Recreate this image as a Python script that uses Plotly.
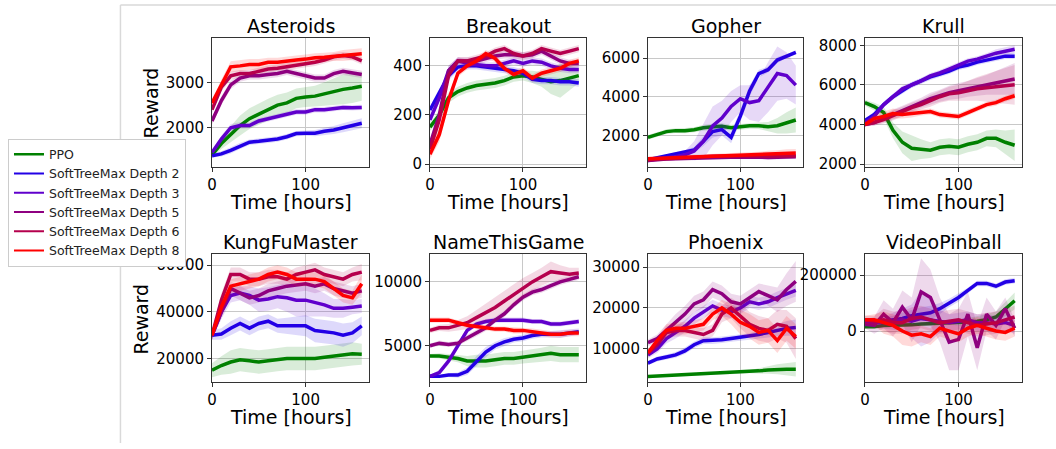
import plotly.graph_objects as go
from plotly.subplots import make_subplots

# ---------------- data ----------------
HOURS = [0, 10, 20, 30, 40, 50, 60, 70, 80, 90, 100, 110, 120, 130, 140, 150, 160]
SERIES = ["PPO", "SoftTreeMax Depth 2", "SoftTreeMax Depth 3",
          "SoftTreeMax Depth 5", "SoftTreeMax Depth 6", "SoftTreeMax Depth 8"]
GAMES = ["Asteroids", "Breakout", "Gopher", "Krull",
         "KungFuMaster", "NameThisGame", "Phoenix", "VideoPinball"]

# Asteroids
AST_PPO = [1400, 1650, 1850, 2050, 2200, 2300, 2400, 2500, 2550, 2650, 2680, 2700, 2750, 2800, 2850, 2880, 2920]
AST_D2 = [1380, 1420, 1500, 1600, 1680, 1700, 1720, 1750, 1800, 1870, 1880, 1880, 1920, 1950, 2000, 2050, 2100]
AST_D3 = [1450, 1750, 2000, 2050, 2050, 2150, 2200, 2250, 2300, 2350, 2350, 2400, 2400, 2420, 2450, 2440, 2450]
AST_D5 = [2150, 2600, 2950, 3100, 3150, 3150, 3180, 3200, 3250, 3200, 3150, 3100, 3100, 3200, 3250, 3220, 3180]
AST_D6 = [2400, 2900, 3150, 3200, 3200, 3250, 3300, 3320, 3350, 3380, 3420, 3450, 3500, 3570, 3600, 3570, 3480]
AST_D8 = [2550, 2950, 3350, 3370, 3400, 3400, 3450, 3450, 3480, 3500, 3520, 3550, 3560, 3580, 3600, 3620, 3640]
AST_PPO_SD = [60, 120, 180, 220, 230, 240, 240, 230, 230, 220, 220, 230, 260, 300, 330, 330, 320]
AST_D2_SD = [40, 60, 70, 70, 60, 60, 60, 60, 60, 60, 60, 70, 80, 90, 100, 110, 110]
AST_D3_SD = [50, 80, 80, 70, 60, 60, 60, 60, 60, 60, 60, 60, 60, 60, 60, 60, 60]
AST_D5_SD = [80, 100, 90, 80, 80, 80, 80, 80, 80, 80, 80, 80, 80, 80, 80, 80, 80]
AST_D6_SD = [80, 100, 90, 80, 80, 80, 80, 80, 80, 80, 80, 80, 80, 80, 80, 80, 80]
AST_D8_SD = [80, 120, 120, 120, 120, 120, 100, 100, 100, 100, 100, 100, 100, 100, 120, 120, 120]

# Breakout
BRK_PPO = [150, 200, 270, 295, 310, 320, 325, 330, 340, 355, 360, 355, 345, 335, 340, 350, 360]
BRK_D2 = [220, 290, 360, 395, 400, 400, 395, 390, 385, 380, 370, 345, 340, 340, 335, 335, 330]
BRK_D3 = [180, 270, 380, 420, 410, 405, 400, 400, 410, 420, 410, 420, 415, 400, 390, 385, 385]
BRK_D5 = [80, 200, 380, 420, 420, 420, 430, 440, 445, 445, 440, 445, 460, 440, 420, 410, 410]
BRK_D6 = [60, 180, 360, 420, 420, 430, 440, 460, 470, 450, 440, 450, 470, 460, 450, 460, 470]
BRK_D8 = [40, 120, 260, 370, 400, 420, 450, 430, 390, 365, 380, 350, 370, 380, 390, 410, 420]
BRK_PPO_SD = [15, 20, 20, 20, 20, 20, 20, 20, 20, 20, 20, 25, 30, 50, 70, 50, 30]
BRK_D2_SD = [15, 20, 20, 15, 15, 15, 15, 15, 15, 15, 15, 15, 15, 15, 15, 15, 15]
BRK_D3_SD = [15, 20, 20, 15, 15, 15, 15, 15, 15, 15, 15, 15, 15, 15, 15, 15, 15]
BRK_D5_SD = [20, 25, 20, 15, 15, 15, 15, 15, 15, 15, 15, 15, 15, 15, 15, 15, 15]
BRK_D6_SD = [20, 25, 20, 15, 15, 15, 15, 15, 15, 15, 15, 15, 15, 15, 15, 15, 15]
BRK_D8_SD = [20, 30, 25, 15, 15, 15, 15, 15, 15, 15, 15, 15, 15, 15, 15, 15, 15]

# Gopher
GOP_PPO = [1900, 2050, 2200, 2250, 2250, 2300, 2400, 2450, 2480, 2400, 2450, 2500, 2500, 2450, 2500, 2650, 2800]
GOP_D2 = [750, 850, 950, 1050, 1150, 1250, 1700, 2200, 2300, 1900, 3000, 4300, 5200, 5400, 5900, 6100, 6300]
GOP_D3 = [700, 800, 850, 900, 1000, 1200, 1700, 2500, 2900, 3500, 3900, 3700, 3800, 4500, 5200, 5100, 4600]
GOP_D5 = [700, 750, 780, 800, 820, 840, 850, 860, 870, 880, 880, 890, 880, 860, 880, 890, 900]
GOP_D6 = [750, 780, 820, 850, 870, 880, 900, 920, 930, 940, 950, 960, 950, 920, 940, 950, 950]
GOP_D8 = [800, 820, 850, 880, 900, 920, 940, 950, 960, 980, 1000, 1020, 1040, 1060, 1080, 1090, 1100]
GOP_PPO_SD = [120, 120, 120, 120, 130, 130, 150, 150, 150, 150, 150, 150, 170, 250, 400, 550, 650]
GOP_D2_SD = [60, 70, 80, 100, 100, 150, 250, 300, 300, 300, 300, 300, 200, 150, 150, 100, 100]
GOP_D3_SD = [60, 70, 80, 100, 200, 500, 900, 1000, 900, 800, 700, 900, 1100, 1300, 1400, 1200, 1000]
GOP_D5_SD = [80, 80, 80, 80, 80, 80, 80, 80, 80, 80, 80, 80, 100, 120, 100, 100, 100]
GOP_D6_SD = [80, 80, 80, 80, 80, 80, 80, 80, 80, 80, 80, 80, 100, 120, 100, 100, 100]
GOP_D8_SD = [100, 100, 100, 100, 100, 100, 100, 100, 100, 120, 120, 120, 120, 150, 150, 200, 200]

# Krull
KRL_PPO = [5100, 4900, 4600, 3700, 3100, 2800, 2750, 2700, 2850, 2900, 2850, 3000, 3100, 3300, 3300, 3100, 2950]
KRL_D2 = [4200, 4500, 5000, 5400, 5700, 6000, 6200, 6400, 6550, 6700, 6900, 7000, 7150, 7250, 7350, 7450, 7450]
KRL_D3 = [4100, 4400, 5000, 5400, 5800, 6000, 6200, 6450, 6600, 6800, 7000, 7200, 7300, 7450, 7600, 7700, 7800]
KRL_D5 = [4000, 4100, 4300, 4500, 4700, 4900, 5100, 5300, 5450, 5600, 5700, 5800, 5900, 6000, 6100, 6200, 6300]
KRL_D6 = [4000, 4100, 4250, 4450, 4650, 4850, 5000, 5200, 5400, 5550, 5600, 5700, 5800, 5850, 5900, 5950, 6000]
KRL_D8 = [4000, 4300, 4400, 4550, 4500, 4550, 4600, 4650, 4500, 4450, 4400, 4600, 4800, 5000, 5100, 5300, 5450]
KRL_PPO_SD = [150, 200, 300, 400, 550, 650, 500, 400, 400, 400, 400, 400, 400, 400, 450, 600, 800]
KRL_D2_SD = [100, 150, 150, 150, 150, 150, 150, 150, 150, 150, 150, 150, 150, 150, 150, 150, 150]
KRL_D3_SD = [100, 150, 150, 150, 150, 150, 150, 150, 150, 150, 150, 150, 150, 150, 200, 200, 200]
KRL_D5_SD = [100, 150, 200, 250, 250, 250, 250, 300, 300, 350, 400, 400, 450, 500, 600, 700, 800]
KRL_D6_SD = [100, 150, 200, 250, 250, 250, 250, 300, 300, 350, 400, 500, 600, 700, 800, 900, 1000]
KRL_D8_SD = [100, 200, 250, 250, 200, 200, 150, 150, 150, 150, 150, 150, 150, 150, 150, 150, 150]

# KungFuMaster
KFM_PPO = [15000, 17000, 18500, 19500, 19000, 18500, 19000, 19500, 20000, 20000, 20000, 20000, 20500, 21000, 21500, 22000, 21800]
KFM_D2 = [30000, 30500, 33000, 35000, 33000, 35000, 36000, 34000, 34000, 34000, 34000, 32000, 31500, 31000, 30000, 31000, 34000]
KFM_D3 = [30000, 40000, 47000, 48000, 47000, 45000, 45500, 46500, 46000, 45000, 45000, 44000, 43000, 41500, 41500, 42000, 42500]
KFM_D5 = [30000, 40000, 50000, 48000, 46000, 47000, 49000, 50000, 51000, 51500, 52000, 51000, 52000, 50000, 49000, 48000, 49000]
KFM_D6 = [30000, 45000, 56000, 56000, 54000, 54000, 55000, 55000, 54000, 56000, 57000, 58000, 56000, 55000, 54000, 56000, 57000]
KFM_D8 = [30000, 42000, 51000, 52000, 53000, 54000, 56000, 57000, 56000, 54000, 54000, 54000, 53000, 50000, 47000, 46000, 52000]
KFM_PPO_SD = [3000, 4000, 5000, 5000, 5000, 5000, 5000, 5000, 5000, 5000, 5000, 5000, 5000, 5000, 5000, 5000, 4500]
KFM_D2_SD = [2000, 2500, 3000, 3000, 3000, 3000, 3000, 3000, 3500, 4000, 4500, 5000, 5000, 5000, 5000, 4500, 4000]
KFM_D3_SD = [2000, 3000, 3000, 3000, 4000, 5000, 5000, 5000, 6000, 7000, 7000, 6000, 5000, 4000, 4000, 3000, 3000]
KFM_D5_SD = [2000, 3000, 3000, 3000, 3000, 3000, 3000, 3000, 3000, 3000, 3000, 3000, 3000, 3000, 3000, 3000, 3000]
KFM_D6_SD = [2000, 3000, 3000, 3000, 3000, 3000, 3000, 3000, 3000, 3000, 3000, 3000, 3000, 3000, 3000, 3000, 3500]
KFM_D8_SD = [2000, 3000, 3000, 3000, 3000, 3000, 3000, 3000, 3000, 3000, 3000, 3000, 3000, 3000, 3000, 3000, 4000]

# NameThisGame
NTG_PPO = [4200, 4200, 4100, 4000, 3800, 3800, 3800, 3900, 4000, 4000, 4100, 4200, 4300, 4400, 4300, 4300, 4300]
NTG_D2 = [2600, 2600, 2700, 2700, 3000, 3800, 4500, 5000, 5300, 5500, 5600, 5800, 5900, 5900, 5900, 6000, 6100]
NTG_D3 = [2600, 2900, 3800, 5000, 6200, 6700, 6900, 7000, 7000, 7000, 7000, 6900, 6900, 6700, 6700, 6800, 6900]
NTG_D5 = [5000, 5200, 5100, 5200, 5600, 6000, 6400, 7000, 7500, 8200, 8800, 9200, 9400, 9700, 10000, 10200, 10400]
NTG_D6 = [6200, 6400, 6400, 6600, 6800, 7200, 7600, 8000, 8500, 9000, 9500, 10000, 10400, 10800, 10700, 10600, 10700]
NTG_D8 = [7000, 7000, 7000, 6800, 6600, 6500, 6400, 6300, 6300, 6200, 6200, 6100, 6000, 5900, 5900, 6000, 6000]
NTG_PPO_SD = [150, 200, 250, 300, 400, 500, 500, 500, 500, 500, 500, 500, 550, 600, 600, 600, 600]
NTG_D2_SD = [100, 100, 150, 200, 300, 400, 400, 300, 300, 250, 250, 250, 250, 250, 300, 300, 250]
NTG_D3_SD = [100, 200, 300, 300, 250, 200, 200, 200, 200, 200, 200, 200, 200, 200, 200, 200, 200]
NTG_D5_SD = [150, 200, 200, 200, 250, 250, 250, 250, 250, 250, 250, 250, 250, 250, 250, 250, 250]
NTG_D6_SD = [200, 250, 300, 400, 500, 600, 700, 800, 800, 800, 800, 700, 700, 800, 600, 500, 400]
NTG_D8_SD = [200, 200, 200, 200, 200, 200, 200, 200, 200, 250, 250, 250, 250, 250, 250, 250, 250]

# Phoenix
PHX_PPO = [3200, 3300, 3400, 3500, 3600, 3700, 3800, 3900, 4000, 4100, 4200, 4400, 4600, 4800, 5000, 5000, 5000]
PHX_D2 = [6500, 7500, 8000, 8500, 9500, 11000, 12000, 12000, 12200, 12500, 12800, 13000, 13500, 14000, 14500, 15000, 15200]
PHX_D3 = [8500, 10000, 12500, 14000, 15500, 17500, 19000, 20500, 19500, 19000, 20000, 21500, 21000, 21500, 22500, 23500, 24300]
PHX_D5 = [11500, 12500, 14500, 16500, 18500, 21000, 22000, 24500, 23500, 21500, 21000, 22500, 24000, 23000, 22000, 24500, 26500]
PHX_D6 = [9000, 11000, 14000, 14500, 14500, 14000, 13500, 14500, 18500, 20000, 18000, 16000, 15000, 14500, 16000, 15500, 12500]
PHX_D8 = [9000, 12000, 14500, 15000, 15000, 15500, 16000, 18500, 20000, 18500, 16500, 15500, 14000, 14500, 12000, 15000, 13000]
PHX_PPO_SD = [300, 300, 300, 300, 300, 300, 300, 300, 300, 300, 300, 400, 600, 900, 1200, 1500, 1800]
PHX_D2_SD = [500, 600, 600, 700, 800, 800, 800, 800, 800, 800, 800, 800, 1000, 1200, 1500, 1800, 2000]
PHX_D3_SD = [800, 1000, 1200, 1500, 1500, 1500, 1500, 1500, 1500, 1500, 1500, 1500, 1500, 1500, 1500, 1500, 1500]
PHX_D5_SD = [800, 1000, 1500, 2000, 2000, 2000, 2000, 2000, 2000, 2000, 2000, 2000, 2000, 2500, 3000, 4000, 5000]
PHX_D6_SD = [800, 1000, 1500, 1500, 1500, 1500, 1500, 1500, 2000, 2500, 3000, 3000, 3000, 3000, 3500, 4000, 5000]
PHX_D8_SD = [800, 1000, 1500, 1500, 1500, 1500, 1500, 1500, 2000, 2500, 3000, 3000, 3000, 3000, 3000, 3000, 3000]

# VideoPinball
VPB_PPO = [15000, 15000, 20000, 20000, 20000, 22000, 25000, 25000, 28000, 30000, 30000, 32000, 35000, 40000, 50000, 80000, 108000]
VPB_D2 = [30000, 30000, 35000, 40000, 45000, 55000, 60000, 65000, 80000, 100000, 120000, 145000, 170000, 170000, 160000, 175000, 180000]
VPB_D3 = [25000, 28000, 30000, 35000, 40000, 35000, 45000, 40000, 35000, 30000, 35000, 40000, 30000, 30000, 25000, 30000, 20000]
VPB_D5 = [25000, 20000, 60000, 30000, 85000, 40000, 140000, 120000, 40000, -40000, -30000, 60000, -60000, 60000, 20000, 80000, 10000]
VPB_D6 = [40000, 35000, 40000, 30000, 30000, 45000, 50000, 40000, 30000, 35000, 40000, 30000, 20000, 25000, 30000, 40000, 50000]
VPB_D8 = [40000, 40000, 30000, 20000, 0, -15000, -10000, -20000, 10000, 0, -10000, 10000, 20000, 10000, 0, -5000, 10000]
VPB_PPO_SD = [5000, 5000, 5000, 5000, 5000, 5000, 5000, 5000, 5000, 8000, 10000, 15000, 20000, 20000, 20000, 25000, 30000]
VPB_D2_SD = [10000, 10000, 15000, 15000, 20000, 20000, 25000, 25000, 20000, 15000, 15000, 10000, 10000, 10000, 10000, 10000, 10000]
VPB_D3_SD = [10000, 15000, 20000, 30000, 40000, 60000, 100000, 80000, 40000, 30000, 30000, 30000, 30000, 30000, 30000, 30000, 30000]
VPB_D5_SD = [15000, 30000, 50000, 50000, 60000, 80000, 120000, 100000, 80000, 100000, 110000, 80000, 80000, 60000, 50000, 40000, 30000]
VPB_D6_SD = [15000, 20000, 40000, 40000, 40000, 40000, 40000, 40000, 40000, 40000, 40000, 40000, 40000, 40000, 40000, 40000, 40000]
VPB_D8_SD = [15000, 20000, 40000, 40000, 50000, 40000, 30000, 30000, 30000, 30000, 30000, 30000, 30000, 30000, 30000, 30000, 30000]

Y_TICKS = {
    "Asteroids": [2000, 3000],
    "Breakout": [0, 200, 400],
    "Gopher": [2000, 4000, 6000],
    "Krull": [2000, 4000, 6000, 8000],
    "KungFuMaster": [20000, 40000, 60000],
    "NameThisGame": [5000, 10000],
    "Phoenix": [10000, 20000, 30000],
    "VideoPinball": [0, 200000],
}
Y_RANGES = {
    "Asteroids": [1130, 3980],
    "Breakout": [-12, 512],
    "Gopher": [370, 7020],
    "Krull": [1850, 8350],
    "KungFuMaster": [9900, 64600],
    "NameThisGame": [2150, 12150],
    "Phoenix": [1850, 33100],
    "VideoPinball": [-182500, 273700],
}

GAME_DATA = {
    "Asteroids": [(AST_PPO, AST_PPO_SD), (AST_D2, AST_D2_SD), (AST_D3, AST_D3_SD), (AST_D5, AST_D5_SD), (AST_D6, AST_D6_SD), (AST_D8, AST_D8_SD)],
    "Breakout": [(BRK_PPO, BRK_PPO_SD), (BRK_D2, BRK_D2_SD), (BRK_D3, BRK_D3_SD), (BRK_D5, BRK_D5_SD), (BRK_D6, BRK_D6_SD), (BRK_D8, BRK_D8_SD)],
    "Gopher": [(GOP_PPO, GOP_PPO_SD), (GOP_D2, GOP_D2_SD), (GOP_D3, GOP_D3_SD), (GOP_D5, GOP_D5_SD), (GOP_D6, GOP_D6_SD), (GOP_D8, GOP_D8_SD)],
    "Krull": [(KRL_PPO, KRL_PPO_SD), (KRL_D2, KRL_D2_SD), (KRL_D3, KRL_D3_SD), (KRL_D5, KRL_D5_SD), (KRL_D6, KRL_D6_SD), (KRL_D8, KRL_D8_SD)],
    "KungFuMaster": [(KFM_PPO, KFM_PPO_SD), (KFM_D2, KFM_D2_SD), (KFM_D3, KFM_D3_SD), (KFM_D5, KFM_D5_SD), (KFM_D6, KFM_D6_SD), (KFM_D8, KFM_D8_SD)],
    "NameThisGame": [(NTG_PPO, NTG_PPO_SD), (NTG_D2, NTG_D2_SD), (NTG_D3, NTG_D3_SD), (NTG_D5, NTG_D5_SD), (NTG_D6, NTG_D6_SD), (NTG_D8, NTG_D8_SD)],
    "Phoenix": [(PHX_PPO, PHX_PPO_SD), (PHX_D2, PHX_D2_SD), (PHX_D3, PHX_D3_SD), (PHX_D5, PHX_D5_SD), (PHX_D6, PHX_D6_SD), (PHX_D8, PHX_D8_SD)],
    "VideoPinball": [(VPB_PPO, VPB_PPO_SD), (VPB_D2, VPB_D2_SD), (VPB_D3, VPB_D3_SD), (VPB_D5, VPB_D5_SD), (VPB_D6, VPB_D6_SD), (VPB_D8, VPB_D8_SD)],
}

# ---------------- style ----------------
COLORS = ["#008000", "#2200e6", "#6000cc", "#8e0080", "#b5004d", "#ff0000"]
FILLS = ["rgba(0,128,0,0.15)", "rgba(34,0,230,0.15)", "rgba(96,0,204,0.15)",
         "rgba(142,0,128,0.15)", "rgba(181,0,77,0.15)", "rgba(255,0,0,0.15)"]
FONT = "DejaVu Sans"
W, H = 1056, 449

COL_PX = [(208, 366), (427, 584), (646, 802), (864, 1022)]
ROW_PX = [(37, 168), (257, 387)]

fig = make_subplots(rows=2, cols=4, horizontal_spacing=0.02, vertical_spacing=0.05)

for gi, game in enumerate(GAMES):
    r, c = gi // 4 + 1, gi % 4 + 1
    for si, (mean, sd) in enumerate(GAME_DATA[game]):
        upper = [m + s for m, s in zip(mean, sd)]
        lower = [m - s for m, s in zip(mean, sd)]
        fig.add_trace(go.Scatter(
            x=HOURS + HOURS[::-1], y=upper + lower[::-1], fill="toself",
            fillcolor=FILLS[si], line=dict(width=0, color=FILLS[si]),
            mode="lines", showlegend=False, hoverinfo="skip"), row=r, col=c)
        fig.add_trace(go.Scatter(
            x=HOURS, y=mean, mode="lines",
            line=dict(color=COLORS[si], width=3.5, shape="linear"),
            name=SERIES[si], showlegend=False), row=r, col=c)

# legend entries (thin lines)
for si, name in enumerate(SERIES):
    fig.add_trace(go.Scatter(x=[None], y=[None], mode="lines",
                             line=dict(color=COLORS[si], width=2.5 if si == 0 else 2),
                             name=name, showlegend=True), row=1, col=1)

annotations = []
for gi, game in enumerate(GAMES):
    r, c = gi // 4, gi % 4
    idx = gi + 1
    x0, x1 = COL_PX[c]
    y0, y1 = ROW_PX[r]
    xa = "xaxis" if idx == 1 else f"xaxis{idx}"
    ya = "yaxis" if idx == 1 else f"yaxis{idx}"
    yt = Y_TICKS[game]
    fig.layout[xa].update(
        domain=[x0 / W, x1 / W], range=[0, 168], tickvals=[0, 100], ticktext=["0", "100"],
        showgrid=True, gridcolor="#c8c8c8", gridwidth=1,
        showline=True, mirror=True, linecolor="#333333", linewidth=1,
        ticks="outside", ticklen=4, tickcolor="#333333",
        tickfont=dict(family=FONT, size=15, color="black"), zeroline=False)
    fig.layout[ya].update(
        domain=[1 - y1 / H, 1 - y0 / H], range=Y_RANGES[game],
        tickvals=yt, ticktext=[str(v) for v in yt],
        showgrid=True, gridcolor="#c8c8c8", gridwidth=1,
        showline=True, mirror=True, linecolor="#333333", linewidth=1,
        ticks="outside", ticklen=4, tickcolor="#333333",
        tickfont=dict(family=FONT, size=15, color="black"), zeroline=False)
    cx = (x0 + x1) / 2 / W
    annotations.append(dict(text=game, x=cx, y=1 - (y0 - 13) / H, xref="paper", yref="paper",
                            xanchor="center", yanchor="middle", showarrow=False,
                            font=dict(family=FONT, size=19, color="black")))
    annotations.append(dict(text="Time [hours]", x=cx, y=1 - (y1 + 36) / H, xref="paper", yref="paper",
                            xanchor="center", yanchor="middle", showarrow=False,
                            font=dict(family=FONT, size=19, color="black")))

annotations.append(dict(text="Reward", x=147 / W, y=1 - 103 / H, xref="paper", yref="paper",
                        xanchor="center", yanchor="middle", showarrow=False, textangle=-90,
                        font=dict(family=FONT, size=19, color="black")))
annotations.append(dict(text="Reward", x=137 / W, y=1 - 323 / H, xref="paper", yref="paper",
                        xanchor="center", yanchor="middle", showarrow=False, textangle=-90,
                        font=dict(family=FONT, size=19, color="black")))

shapes = [
    dict(type="line", xref="paper", yref="paper", x0=116 / W, x1=1, y0=1 - 3 / H, y1=1 - 3 / H,
         line=dict(color="#d9d9d9", width=1.5)),
    dict(type="line", xref="paper", yref="paper", x0=116 / W, x1=116 / W, y0=0, y1=1 - 3 / H,
         line=dict(color="#d9d9d9", width=1.5)),
]

fig.update_layout(
    width=W, height=H, margin=dict(l=0, r=0, t=0, b=0),
    paper_bgcolor="white", plot_bgcolor="white",
    annotations=annotations, shapes=shapes,
    legend=dict(x=3 / W, y=1 - 139 / H, xanchor="left", yanchor="top",
                bgcolor="white", bordercolor="#cccccc", borderwidth=1,
                font=dict(family=FONT, size=12.5, color="#222222"),
                itemwidth=30, tracegroupgap=0),
    font=dict(family=FONT),
)

fig.write_html("out.html", config={"displayModeBar": False},
               post_script="document.body.style.margin='0px';document.body.style.overflow='hidden';")
